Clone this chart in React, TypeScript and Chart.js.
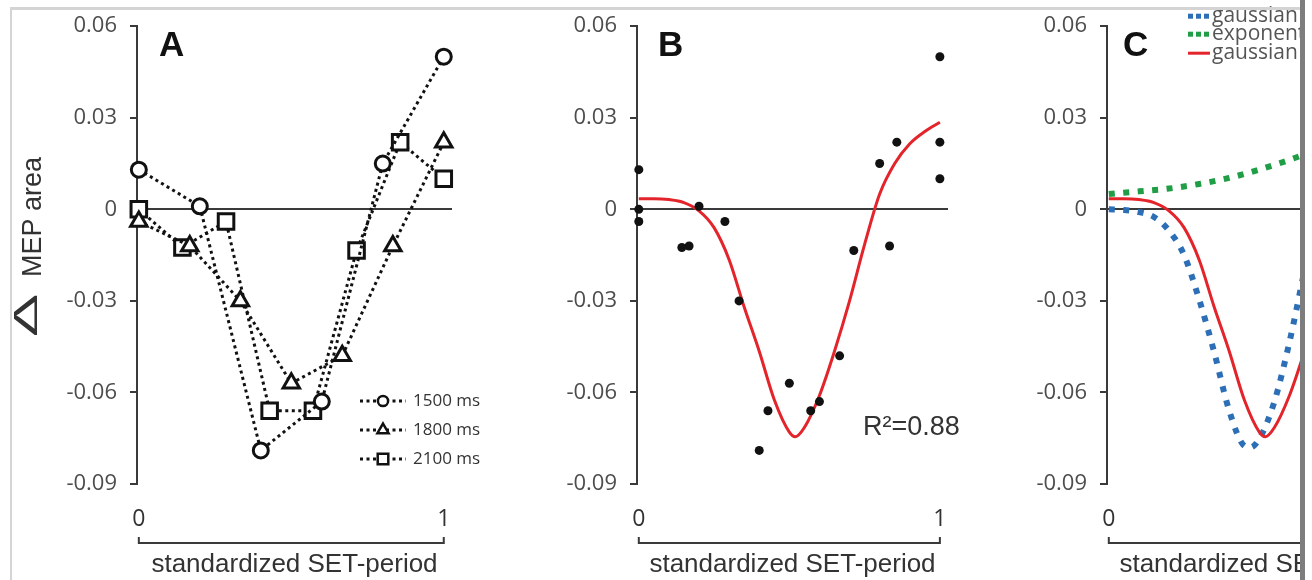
import React, { useEffect, useRef } from 'react';
import { Chart, registerables } from 'chart.js';
Chart.register(...registerables);

// ---------- data ----------
// Panel A: three SET periods (x = standardized SET-period, y = Δ MEP area)
const X_1500 = [0, 0.2, 0.4, 0.6, 0.8, 1.0];
const Y_1500 = [0.013, 0.001, -0.079, -0.063, 0.015, 0.050];
const X_1800 = [0, 0.167, 0.333, 0.5, 0.667, 0.833, 1.0];
const Y_1800 = [-0.004, -0.012, -0.030, -0.057, -0.048, -0.012, 0.022];
const X_2100 = [0, 0.143, 0.286, 0.429, 0.571, 0.714, 0.857, 1.0];
const Y_2100 = [0, -0.0125, -0.004, -0.066, -0.066, -0.0135, 0.022, 0.010];

// Fitted gaussian + exponential curve (panels B and C)
const FIT_X = [0, 0.05, 0.1, 0.15, 0.2, 0.25, 0.3, 0.35, 0.4, 0.45, 0.5, 0.52, 0.55, 0.6, 0.65, 0.7, 0.75, 0.8, 0.85, 0.9, 0.95, 1.0];
const FIT_Y = [0.0035, 0.0035, 0.0032, 0.0022, -0.0005, -0.006, -0.0165, -0.032, -0.0465, -0.0624, -0.073, -0.0745, -0.0715, -0.061, -0.0465, -0.030, -0.0115, 0.005, 0.015, 0.0215, 0.0255, 0.0285];

// Panel C components
const GAUSS_X = [0, 0.05, 0.1, 0.15, 0.2, 0.25, 0.3, 0.35, 0.4, 0.45, 0.47, 0.5, 0.55, 0.6, 0.65];
const GAUSS_Y = [0, -0.0002, -0.0009, -0.0025, -0.007, -0.015, -0.0295, -0.0468, -0.066, -0.0775, -0.078, -0.0752, -0.063, -0.0435, -0.020];
const EXP_X = [0, 0.1, 0.2, 0.3, 0.4, 0.5, 0.6, 0.65];
const EXP_Y = [0.005, 0.0059, 0.0068, 0.0083, 0.0103, 0.013, 0.0162, 0.018];

// Axis ticks and labels
const Y_TICKS = [0.06, 0.03, 0, -0.03, -0.06, -0.09];
const X_TICKS = [0, 1];
const X_TITLE = 'standardized SET-period';
const Y_TITLE_SYMBOL = 'Δ';
const Y_TITLE_TEXT = 'MEP area';
const SERIES_A_LABELS = ['1500 ms', '1800 ms', '2100 ms'];
const SERIES_C_LABELS = ['gaussian', 'exponential', 'gaussian + exponential'];
const PANEL_LETTERS = ['A', 'B', 'C'];
const R2_TEXT = 'R²=0.88';

const pts = (xs: number[], ys: number[]) => xs.map((x, i) => ({ x, y: ys[i] }));

const AXIS = '#3a3a3a';

function drawMarker(ctx: CanvasRenderingContext2D, style: string, x: number, y: number, r: number) {
  ctx.beginPath();
  if (style === 'circle') {
    ctx.arc(x, y, r, 0, Math.PI * 2);
  } else if (style === 'triangle') {
    let rad = 0;
    ctx.moveTo(x + Math.sin(rad) * r, y - Math.cos(rad) * r);
    rad += (2 * Math.PI) / 3;
    ctx.lineTo(x + Math.sin(rad) * r, y - Math.cos(rad) * r);
    rad += (2 * Math.PI) / 3;
    ctx.lineTo(x + Math.sin(rad) * r, y - Math.cos(rad) * r);
    ctx.closePath();
  } else {
    const s = r * Math.SQRT1_2;
    ctx.rect(x - s, y - s, 2 * s, 2 * s);
  }
  ctx.fill();
  ctx.stroke();
}

const decorPlugin = {
  id: 'decor',
  afterDraw(chart: any, _args: any, opts: any) {
    const { ctx, chartArea } = chart;
    const xs = chart.scales.x;
    ctx.save();
    // x-axis bracket between 0 and 1
    const x0 = xs.getPixelForValue(X_TICKS[0]);
    const x1 = xs.getPixelForValue(X_TICKS[1]);
    const by = chartArea.bottom + 59;
    ctx.strokeStyle = AXIS;
    ctx.lineWidth = 2;
    ctx.setLineDash([]);
    ctx.beginPath();
    ctx.moveTo(x0, by - 6);
    ctx.lineTo(x0, by);
    ctx.lineTo(x1, by);
    ctx.lineTo(x1, by - 6);
    ctx.stroke();

    // panel letter
    ctx.fillStyle = '#111';
    ctx.font = 'bold 35px "Liberation Sans"';
    ctx.textAlign = 'left';
    ctx.textBaseline = 'alphabetic';
    ctx.fillText(opts.letter, chartArea.left + opts.letterDx, chartArea.top + 30);

    if (opts.yTitle) {
      ctx.save();
      ctx.translate(41, 337);
      ctx.rotate(-Math.PI / 2);
      ctx.fillStyle = '#333';
      ctx.textAlign = 'left';
      ctx.textBaseline = 'alphabetic';
      ctx.save();
      ctx.scale(1.9, 1);
      ctx.font = '34px "Liberation Sans"';
      ctx.fillText(Y_TITLE_SYMBOL, 0, -4);
      ctx.restore();
      ctx.font = '27px "Liberation Sans"';
      ctx.fillText(Y_TITLE_TEXT, 60, 0);
      ctx.restore();
    }

    if (opts.r2) {
      ctx.fillStyle = '#333';
      ctx.font = '27px "Liberation Sans"';
      ctx.textAlign = 'left';
      ctx.textBaseline = 'alphabetic';
      ctx.fillText(opts.r2, chartArea.left + 226, 435);
    }

    if (opts.legendA) {
      chart.data.datasets.forEach((ds: any, i: number) => {
        const y = 401 + 29 * i;
        const lx = chartArea.left + 223;
        ctx.strokeStyle = ds.borderColor;
        ctx.lineWidth = ds.borderWidth;
        ctx.setLineDash(ds.borderDash);
        ctx.beginPath();
        ctx.moveTo(lx, y);
        ctx.lineTo(lx + 46, y);
        ctx.stroke();
        ctx.setLineDash([]);
        ctx.fillStyle = '#fff';
        ctx.lineWidth = 2.5;
        drawMarker(ctx, ds.pointStyle, lx + 23, y, ds.pointRadius * 0.68);
        ctx.fillStyle = '#333';
        ctx.font = '17px "Open Sans"';
        ctx.textBaseline = 'middle';
        ctx.fillText(ds.label, lx + 53, y);
      });
    }

    if (opts.legendC) {
      [0, 1, 2].forEach((i) => {
        const ds = chart.data.datasets[i];
        const y = chartArea.top + [-10, 8, 27][i];
        const lx = chartArea.left + 81;
        if (ds.borderDash && ds.borderDash.length) {
          ctx.fillStyle = ds.borderColor;
          for (let k = 0; k < 3; k++) ctx.fillRect(lx + k * 8, y - 2.5, 5, 5);
        } else {
          ctx.strokeStyle = ds.borderColor;
          ctx.lineWidth = 3;
          ctx.setLineDash([]);
          ctx.beginPath();
          ctx.moveTo(lx, y);
          ctx.lineTo(lx + 22, y);
          ctx.stroke();
        }
        ctx.fillStyle = '#555';
        ctx.font = '21px "Open Sans"';
        ctx.textBaseline = 'middle';
        ctx.fillText(ds.label, lx + 24, y);
      });
    }
    ctx.restore();
  },
};

function fmtY(v: number) {
  const r = Math.round(v * 100) / 100;
  return r === 0 ? '0' : String(r);
}

function makeScales() {
  return {
    x: {
      type: 'linear',
      position: 'bottom',
      min: -0.006,
      max: 1.027,
      afterBuildTicks: (s: any) => {
        s.ticks = X_TICKS.map((v) => ({ value: v }));
      },
      afterFit: (s: any) => {
        s.height = 96;
      },
      grid: { display: false, drawTicks: false },
      border: { display: false },
      ticks: {
        padding: 22,
        color: '#333',
        font: { family: 'Open Sans', size: 23 },
        autoSkip: false,
        maxRotation: 0,
        callback: (v: number) => String(v),
      },
      title: {
        display: true,
        text: X_TITLE,
        color: '#333',
        font: { family: 'Liberation Sans', size: 26 },
        padding: { top: 0, bottom: 0 },
      },
    },
    y: {
      type: 'linear',
      min: -0.09,
      max: 0.06,
      afterBuildTicks: (s: any) => {
        s.ticks = Y_TICKS.map((v) => ({ value: v }));
      },
      afterFit: (s: any) => {
        s.width = 137;
      },
      grid: {
        color: (c: any) => (c.tick && c.tick.value === 0 ? AXIS : 'rgba(0,0,0,0)'),
        lineWidth: 2,
        drawTicks: true,
        tickLength: 7,
        tickColor: AXIS,
        tickWidth: 2,
      },
      border: { display: true, color: AXIS, width: 2 },
      ticks: {
        padding: 13,
        color: '#4d4d4d',
        font: { family: 'Open Sans', size: 22 },
        callback: (v: number) => fmtY(v),
      },
    },
  };
}

function makeConfig(datasets: any[], decor: any, padRight: number): any {
  return {
    type: 'scatter',
    data: { datasets },
    options: {
      responsive: false,
      animation: false,
      devicePixelRatio: 1,
      layout: { padding: { top: 25, left: 0, right: padRight, bottom: 0 } },
      plugins: {
        legend: { display: false },
        tooltip: { enabled: false },
        decor,
      },
      scales: makeScales(),
    },
    plugins: [decorPlugin],
  };
}

const lineA = (label: string, xs: number[], ys: number[], style: string, r: number) => ({
  label,
  data: pts(xs, ys),
  showLine: true,
  borderColor: '#111',
  borderWidth: 3,
  borderDash: [3, 3.5],
  pointStyle: style,
  pointRadius: r,
  pointBorderWidth: 3,
  pointBackgroundColor: '#fff',
  pointBorderColor: '#111',
  clip: false,
});

export default function App() {
  const refA = useRef<HTMLCanvasElement>(null);
  const refB = useRef<HTMLCanvasElement>(null);
  const refC = useRef<HTMLCanvasElement>(null);

  useEffect(() => {
    const dsA = [
      lineA(SERIES_A_LABELS[0], X_1500, Y_1500, 'circle', 7.5),
      lineA(SERIES_A_LABELS[1], X_1800, Y_1800, 'triangle', 9.5),
      lineA(SERIES_A_LABELS[2], X_2100, Y_2100, 'rect', 11),
    ];
    const allPts = [...pts(X_1500, Y_1500), ...pts(X_1800, Y_1800), ...pts(X_2100, Y_2100)];
    const dsB = [
      {
        label: 'data',
        data: allPts,
        showLine: false,
        pointRadius: 4.5,
        pointBackgroundColor: '#111',
        pointBorderWidth: 0,
        clip: false,
        order: 0,
      },
      {
        label: 'fit',
        data: pts(FIT_X, FIT_Y),
        showLine: true,
        borderColor: '#e3242b',
        borderWidth: 3,
        pointRadius: 0,
        cubicInterpolationMode: 'monotone',
        clip: false,
        order: 1,
      },
    ];
    const dsC = [
      {
        label: SERIES_C_LABELS[0],
        data: pts(GAUSS_X, GAUSS_Y),
        showLine: true,
        borderColor: '#2c6fb7',
        borderWidth: 6,
        borderDash: [6, 8.5],
        borderCapStyle: 'butt',
        pointRadius: 0,
        cubicInterpolationMode: 'monotone',
        order: 2,
      },
      {
        label: SERIES_C_LABELS[1],
        data: pts(EXP_X, EXP_Y),
        showLine: true,
        borderColor: '#1f9e45',
        borderWidth: 6,
        borderDash: [6, 8.5],
        borderCapStyle: 'butt',
        pointRadius: 0,
        cubicInterpolationMode: 'monotone',
        order: 1,
      },
      {
        label: SERIES_C_LABELS[2],
        data: pts(FIT_X, FIT_Y),
        showLine: true,
        borderColor: '#e3242b',
        borderWidth: 3,
        borderDash: [],
        pointRadius: 0,
        cubicInterpolationMode: 'monotone',
        order: 0,
      },
    ];
    const charts = [
      new Chart(refA.current as HTMLCanvasElement, makeConfig(dsA, { letter: PANEL_LETTERS[0], letterDx: 22, yTitle: true, legendA: true }, 48)),
      new Chart(refB.current as HTMLCanvasElement, makeConfig(dsB, { letter: PANEL_LETTERS[1], letterDx: 21, r2: R2_TEXT }, 22)),
      new Chart(refC.current as HTMLCanvasElement, makeConfig(dsC, { letter: PANEL_LETTERS[2], letterDx: 16, legendC: true }, 22)),
    ];
    return () => charts.forEach((c) => c.destroy());
  }, []);

  const cv = (left: number): React.CSSProperties => ({ position: 'absolute', left, top: 0 });

  return (
    <div style={{ position: 'absolute', left: 0, top: 0, width: 1312, height: 580, background: '#fff', overflow: 'hidden' }}>
      <div style={{ position: 'absolute', left: 0, top: 0, width: 1300, height: 580, overflow: 'hidden' }}>
        <canvas ref={refA} width={500} height={580} style={cv(0)} />
        <canvas ref={refB} width={470} height={580} style={cv(500)} />
        <canvas ref={refC} width={470} height={580} style={cv(970)} />
      </div>
      <div style={{ position: 'absolute', left: 10, top: 7, width: 1290, height: 3, background: '#d4d4d4' }} />
      <div style={{ position: 'absolute', left: 10, top: 7, width: 2, height: 573, background: '#d4d4d4' }} />
      <div style={{ position: 'absolute', left: 1300, top: 0, width: 5, height: 580, background: '#7d7d7d' }} />
    </div>
  );
}
